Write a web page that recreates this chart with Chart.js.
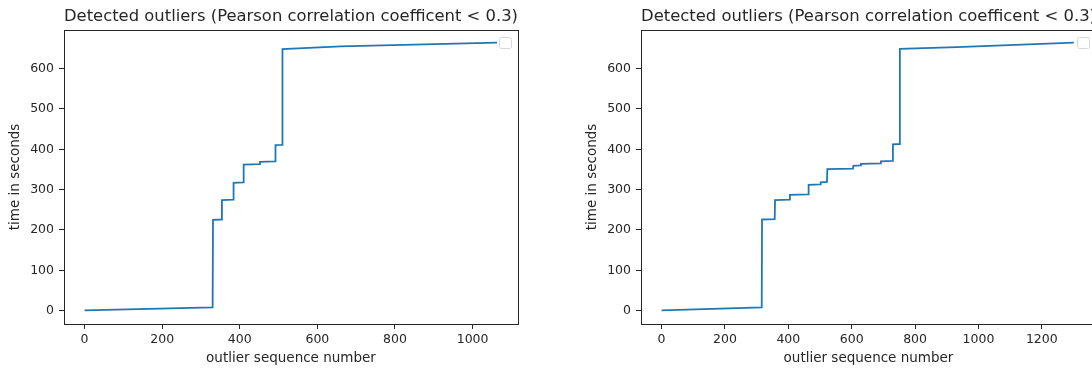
<!DOCTYPE html>
<html>
<head>
<meta charset="utf-8">
<script src="https://cdn.jsdelivr.net/npm/chart.js@4.4.1/dist/chart.umd.min.js"></script>
<style>
  html, body { margin: 0; padding: 0; background: #fff; overflow: hidden; width: 1092px; height: 372px; }
  .box { position: absolute; top: 0; width: 546px; height: 372px; }
  #left-box { left: 0; }
  #right-box { left: 577px; }
</style>
</head>
<body>
<div class="box" id="left-box"><canvas id="left-chart"></canvas></div>
<div class="box" id="right-box"><canvas id="right-chart"></canvas></div>
<script>
const TITLE = 'Detected outliers (Pearson correlation coefficent < 0.3)';
const X_LABEL = 'outlier sequence number';
const Y_LABEL = 'time in seconds';
const Y_TICKS = [0, 100, 200, 300, 400, 500, 600];

// left panel
const LEFT_X_TICKS = [0, 200, 400, 600, 800, 1000];
const LEFT_X = [0, 330, 331, 353, 354, 383, 384, 409, 410, 450, 452, 491, 492, 509, 510, 660, 1063];
const LEFT_Y = [1, 8, 225, 226, 274, 275, 317, 318, 362, 363, 369, 370, 410, 411, 648, 655, 664];

// right panel
const RIGHT_X_TICKS = [0, 200, 400, 600, 800, 1000, 1200];
const RIGHT_X = [0, 316, 317, 357, 358, 404, 405, 463, 464, 501, 502, 522, 523, 604, 605, 628, 629, 691, 692, 729, 730, 751, 752, 932, 1301];
const RIGHT_Y = [1, 8, 226, 227, 274, 275, 287, 288, 312, 313, 318, 319, 351, 352, 359, 360, 364, 365, 370, 371, 412, 413, 649, 653, 664];

const FONT = 'DejaVu Sans';
const INK = '#262626';

// matplotlib-ish frame + the empty legend box in the upper right
const framePlugin = {
  id: 'frame',
  afterDatasetsDraw(chart) {
    const { ctx, chartArea: a } = chart;
    ctx.save();
    ctx.strokeStyle = INK;
    ctx.lineWidth = 1;
    ctx.strokeRect(Math.round(a.left) + 0.5, Math.round(a.top) + 0.5, Math.round(a.right - a.left), Math.round(a.bottom - a.top));
    const w = 12, h = 11;
    const x = Math.round(a.right) - 7 - w + 0.5, y = Math.round(a.top) + 7 + 0.5;
    ctx.strokeStyle = '#d6d6d6';
    ctx.fillStyle = 'rgba(255,255,255,0.8)';
    ctx.beginPath();
    ctx.roundRect(x, y, w, h, 2);
    ctx.fill();
    ctx.stroke();
    ctx.restore();
  }
};

function toPoints(xs, ys) {
  return xs.map((x, i) => ({ x, y: ys[i] }));
}

function fixedTicks(values) {
  return scale => { scale.ticks = values.map(v => ({ value: v })); };
}

function makeChart(id, xs, ys, xTicks, xMin, xMax, rightPad) {
  const canvas = document.getElementById(id);
  return new Chart(canvas, {
    type: 'scatter',
    data: {
      datasets: [{
        data: toPoints(xs, ys),
        showLine: true,
        borderColor: '#1f77b4',
        borderWidth: 1.8,
        pointRadius: 0,
        tension: 0
      }]
    },
    options: {
      responsive: true,
      maintainAspectRatio: false,
      animation: false,
      layout: { padding: { left: 0, right: rightPad, top: 0, bottom: 0 } },
      plugins: {
        legend: { display: false },
        tooltip: { enabled: false },
        title: {
          display: true,
          text: TITLE,
          align: 'start',
          fullSize: false,
          color: INK,
          font: { family: FONT, size: 16.5, weight: 'normal' },
          padding: { top: 7, bottom: 3 }
        }
      },
      scales: {
        x: {
          type: 'linear',
          min: xMin,
          max: xMax,
          afterBuildTicks: fixedTicks(xTicks),
          afterFit: s => { s.height = 48; },
          border: { display: false },
          grid: { drawOnChartArea: false, drawTicks: true, tickLength: 5, color: INK },
          ticks: { color: INK, padding: 3, maxRotation: 0, font: { family: FONT, size: 12.5 }, callback: v => String(v) },
          title: { display: true, text: X_LABEL, color: INK, font: { family: FONT, size: 13.5 }, padding: { top: 0, bottom: 5 } }
        },
        y: {
          type: 'linear',
          min: -33,
          max: 696,
          afterBuildTicks: fixedTicks(Y_TICKS),
          afterFit: s => { s.width = 64; },
          border: { display: false },
          grid: { drawOnChartArea: false, drawTicks: true, tickLength: 5, color: INK },
          ticks: { color: INK, padding: 5, font: { family: FONT, size: 12.5 }, callback: v => String(v) },
          title: { display: true, text: Y_LABEL, color: INK, font: { family: FONT, size: 13.5 }, padding: { top: 7, bottom: 0 } }
        }
      }
    },
    plugins: [framePlugin]
  });
}

makeChart('left-chart', LEFT_X, LEFT_Y, LEFT_X_TICKS, -53, 1117, 28);
makeChart('right-chart', RIGHT_X, RIGHT_Y, RIGHT_X_TICKS, -65, 1371, 27);
</script>
</body>
</html>
